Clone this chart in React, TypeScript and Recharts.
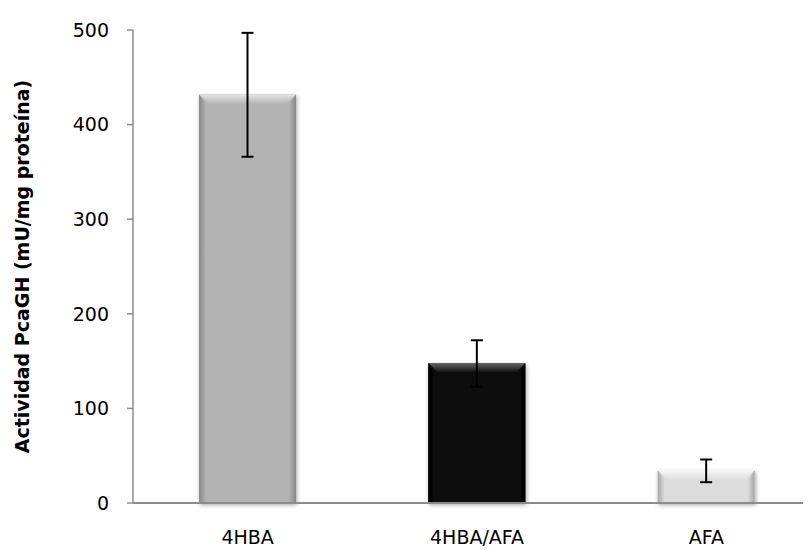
import { Bar, BarChart, Cell, ErrorBar, XAxis, YAxis } from "recharts"

const categories = ["4HBA", "4HBA/AFA", "AFA"]
const actividad = [432, 148, 35]
const errLow = [66, 25, 13]
const errHigh = [65, 24, 11]
const yTicks = [0, 100, 200, 300, 400, 500]

const data = categories.map((name, i) => ({
  name,
  actividad: actividad[i],
  err: [errLow[i], errHigh[i]],
}))

// base / top facet highlight / side shade for each bar
const palette = [
  { base: "#b3b3b3", light: "#e4e4e4", dark: "#888888" },
  { base: "#0b0b0b", light: "#666666", dark: "#000000" },
  { base: "#dcdcdc", light: "#f8f8f8", dark: "#a6a6a6" },
]

const font = "'DejaVu Sans', sans-serif"

function BevelBar(props: any) {
  const { x, y, width: w, height: h, index } = props
  if (!w || !h) return null
  const c = palette[index % palette.length]
  const b = Math.min(10, h / 2)
  const s = Math.min(7, w / 4)
  const id = `bev-${index}`
  return (
    <g filter="url(#barShadow)">
      <defs>
        <linearGradient id={`${id}-top`} x1="0" y1="0" x2="0" y2="1">
          <stop offset="0" stopColor={c.light} />
          <stop offset="1" stopColor={c.base} />
        </linearGradient>
        <linearGradient id={`${id}-l`} x1="0" y1="0" x2="1" y2="0">
          <stop offset="0" stopColor={c.dark} />
          <stop offset="1" stopColor={c.base} />
        </linearGradient>
        <linearGradient id={`${id}-r`} x1="0" y1="0" x2="1" y2="0">
          <stop offset="0" stopColor={c.base} />
          <stop offset="1" stopColor={c.dark} />
        </linearGradient>
      </defs>
      <rect x={x} y={y} width={w} height={h} fill={c.base} />
      <polygon points={`${x},${y} ${x + s},${y + b} ${x + s},${y + h} ${x},${y + h}`} fill={`url(#${id}-l)`} />
      <polygon points={`${x + w},${y} ${x + w - s},${y + b} ${x + w - s},${y + h} ${x + w},${y + h}`} fill={`url(#${id}-r)`} />
      <polygon points={`${x},${y} ${x + w},${y} ${x + w - b},${y + b} ${x + b},${y + b}`} fill={`url(#${id}-top)`} />
    </g>
  )
}

function YTitle(props: any) {
  const { viewBox } = props
  const cy = viewBox.y + viewBox.height / 2
  const cx = 21
  return (
    <text
      x={cx}
      y={cy}
      transform={`rotate(-90, ${cx}, ${cy})`}
      textAnchor="middle"
      fontFamily={font}
      fontWeight="bold"
      fontSize={19}
      fill="#000"
    >
      Actividad PcaGH (mU/mg proteína)
    </text>
  )
}

export default function App() {
  return (
    <div style={{ width: 803, overflow: "hidden" }}>
      <BarChart width={803} height={542} data={data} margin={{ top: 22, right: -10, left: 0, bottom: 0 }}>
        <defs>
          <filter id="barShadow" x="-20%" y="-20%" width="140%" height="140%">
            <feDropShadow dx="1" dy="2" stdDeviation="2" floodColor="#000" floodOpacity="0.35" />
          </filter>
        </defs>
        <XAxis
          dataKey="name"
          height={47}
          tickLine={false}
          tickSize={0}
          tickMargin={28}
          axisLine={{ stroke: "#8c8c8c", strokeWidth: 2 }}
          tick={{ fill: "#000", fontSize: 19, fontFamily: font }}
        />
        <YAxis
          width={125}
          domain={[0, 500]}
          ticks={yTicks}
          interval={0}
          tickSize={6}
          tickMargin={18}
          axisLine={{ stroke: "#8c8c8c", strokeWidth: 1.5 }}
          tickLine={{ stroke: "#8c8c8c", strokeWidth: 1.5 }}
          tick={{ fill: "#000", fontSize: 19, fontFamily: font }}
          label={<YTitle />}
        />
        <Bar dataKey="actividad" barSize={97} shape={<BevelBar />} isAnimationActive={false}>
          {data.map((d, i) => (
            <Cell key={d.name} fill={palette[i].base} />
          ))}
          <ErrorBar dataKey="err" width={6} strokeWidth={2} stroke="#000" direction="y" />
        </Bar>
      </BarChart>
    </div>
  )
}
